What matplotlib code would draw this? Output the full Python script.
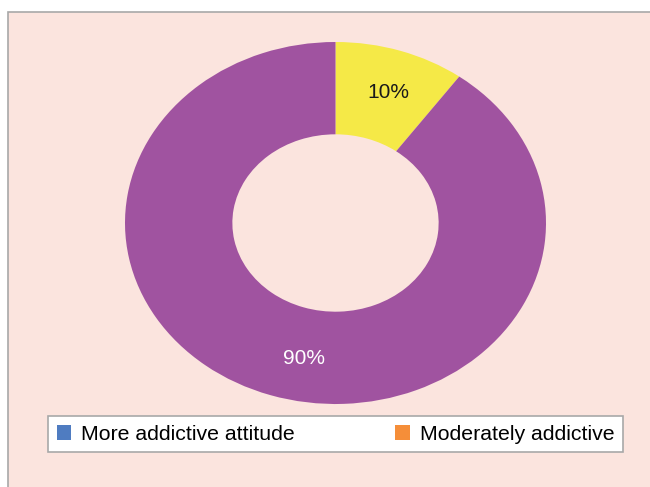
import matplotlib
matplotlib.use("Agg")
import matplotlib.pyplot as plt
from matplotlib.patches import Rectangle, Patch

# Data
slice_labels = ["Moderately addictive", "More addictive attitude"]
slice_values = [10, 90]
slice_colors = ["#F5E947", "#A053A0"]
label_colors = ["#1a1a1a", "#ffffff"]

legend_labels = ["More addictive attitude", "Moderately addictive"]
legend_colors = ["#4F7CC1", "#F58E39"]

plt.rcParams["font.family"] = ["Liberation Sans", "DejaVu Sans"]

W, H = 650, 487
fig = plt.figure(figsize=(W / 100, H / 100), dpi=100, facecolor="white")

# Chart area background with border
bg = Rectangle((8 / W, -0.05), 1.1, (H - 12) / H + 0.05, transform=fig.transFigure,
               facecolor="#FBE4DE", edgecolor="#A8A8A8", linewidth=1.2, zorder=-10)
fig.patches.append(bg)

# Doughnut (plotted in a stretched axes, as in the original chart)
ax = fig.add_axes([125 / W, (H - 404) / H, 421 / W, 362 / H])
ax.set_zorder(1)
ax.set_facecolor("none")
wedges, texts, autotexts = ax.pie(
    slice_values, colors=slice_colors, startangle=90, counterclock=False,
    radius=1.0, wedgeprops=dict(width=0.51, edgecolor="none"),
    autopct="%d%%", pctdistance=0.755,
    textprops=dict(fontsize=15),
)
for t, c in zip(autotexts, label_colors):
    t.set_color(c)
autotexts[0].set_position((0.25, 0.72))
autotexts[1].set_position((-0.15, -0.75))
ax.set_aspect("auto")
ax.set_xlim(-1, 1)
ax.set_ylim(-1, 1)
ax.axis("off")

# Legend
handles = [Patch(facecolor=c, edgecolor="none") for c in legend_colors]
leg = fig.legend(
    handles, legend_labels, loc="lower left",
    bbox_to_anchor=(48 / W, (H - 452) / H, 575 / W, 38 / H),
    mode="expand", ncol=2, frameon=True, fancybox=False, borderaxespad=0,
    fontsize=15.3, handlelength=0.7, handleheight=0.7, handletextpad=0.45,
    borderpad=0.4, framealpha=1,
)
leg.get_frame().set_edgecolor("#A8A8A8")
leg.get_frame().set_linewidth(1.2)
leg.get_frame().set_facecolor("white")
leg.set_zorder(2)

fig.savefig("out.png", dpi=100, facecolor="white")
